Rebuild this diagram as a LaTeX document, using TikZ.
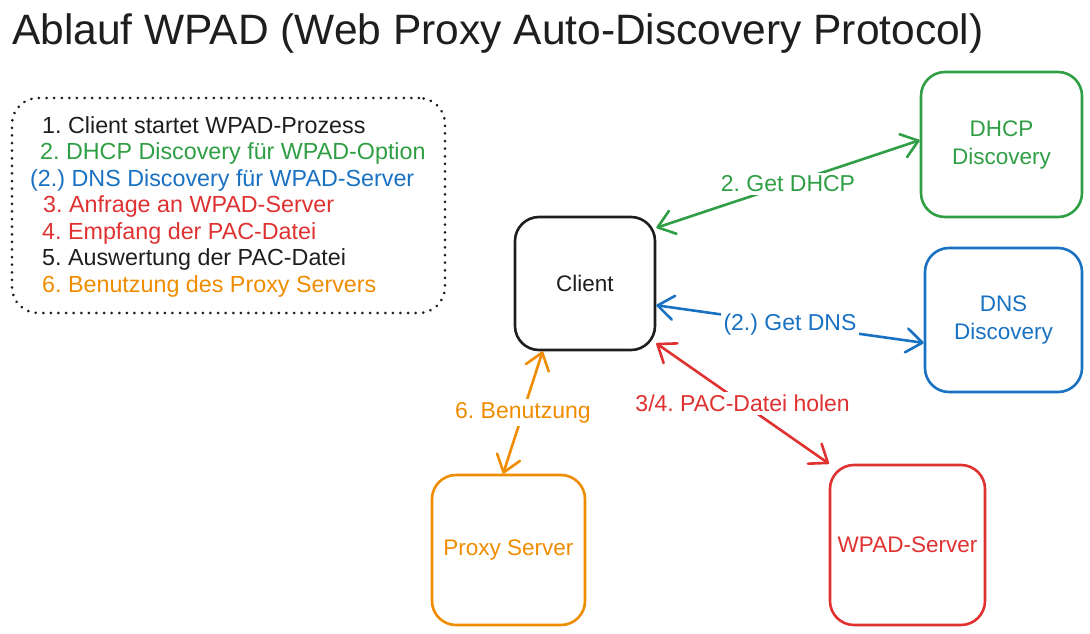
\documentclass[tikz,border=0pt]{standalone}
\usepackage{fontspec}
\setmainfont{Liberation Sans}
\usetikzlibrary{arrows.meta}
\definecolor{exblack}{HTML}{1E1E1E}
\definecolor{exgreen}{HTML}{2F9E44}
\definecolor{exblue}{HTML}{1971C2}
\definecolor{exred}{HTML}{E03131}
\definecolor{exorange}{HTML}{F08C00}
\frenchspacing
\begin{document}
\begin{tikzpicture}[x=1pt,y=-1pt,
  box/.style={draw, line width=2.6pt, rounded corners=24pt, inner sep=0pt, align=center,
    font=\fontsize{22.5}{28}\selectfont},
  legendbox/.style={draw=exblack, line width=2.9pt, line cap=round, dash pattern=on 0.1pt off 7.5pt,
    rounded corners=26pt, inner sep=0pt},
  legendtext/.style={anchor=base west, inner sep=0pt, font=\fontsize{23.3}{28}\selectfont},
  conn/.style={line width=2.6pt, line cap=round,
    {Straight Barb[length=16pt,width=24pt,round]}-{Straight Barb[length=16pt,width=24pt,round]}},
  lbl/.style={fill=white, inner sep=3pt, font=\fontsize{23}{26}\selectfont}
]
\useasboundingbox (0,0) rectangle (1090,634);

% title
\node[anchor=base west, inner sep=0pt, text=exblack, font=\fontsize{42.5}{50}\selectfont] (title) at (12,45)
  {Ablauf WPAD (Web Proxy Auto-Discovery Protocol)};

% legend
\node[legendbox, minimum width=433pt, minimum height=215pt] (legend) at (228.5,205.5) {};
\node[legendtext, text=exblack] (l1) at (42,133) {1. Client startet WPAD-Prozess};
\node[legendtext, text=exgreen] (l2) at (40,159.5) {2. DHCP Discovery für WPAD-Option};
\node[legendtext, text=exblue] (l3) at (30,186) {(2.) DNS Discovery für WPAD-Server};
\node[legendtext, text=exred] (l4) at (43,212.5) {3. Anfrage an WPAD-Server};
\node[legendtext, text=exred] (l5) at (42,239) {4. Empfang der PAC-Datei};
\node[legendtext, text=exblack] (l6) at (42,265.5) {5. Auswertung der PAC-Datei};
\node[legendtext, text=exorange] (l7) at (42,292) {6. Benutzung des Proxy Servers};

% boxes
\node[box, draw=exblack, text=exblack, minimum width=140pt, minimum height=133pt] (client) at (585,283.5) {Client};
\node[box, draw=exgreen, text=exgreen, minimum width=161pt, minimum height=145pt] (dhcp) at (1001.5,144.5) {DHCP\\Discovery};
\node[box, draw=exblue, text=exblue, minimum width=157pt, minimum height=144pt] (dns) at (1003.5,320) {DNS\\Discovery};
\node[box, draw=exorange, text=exorange, minimum width=153pt, minimum height=150pt] (proxy) at (508.5,550) {Proxy Server};
\node[box, draw=exred, text=exred, minimum width=155pt, minimum height=160pt] (wpad) at (907.5,545) {WPAD-Server};

% connectors
\draw[conn, exgreen] (client.38) -- node[lbl, text=exgreen] (lg) {2. Get DHCP} (dhcp.177);
\draw[conn, exblue] (client.-17) -- node[lbl, text=exblue] (lb) {(2.) Get DNS} (dns.-164);
\draw[conn, exred] (client.-40) -- node[lbl, text=exred] (lr) {3/4. PAC-Datei holen} (wpad.134);
\draw[conn, exorange] (client.-122) -- node[lbl, text=exorange] (lo) {6. Benutzung} (proxy.94);
\end{tikzpicture}
\end{document}
